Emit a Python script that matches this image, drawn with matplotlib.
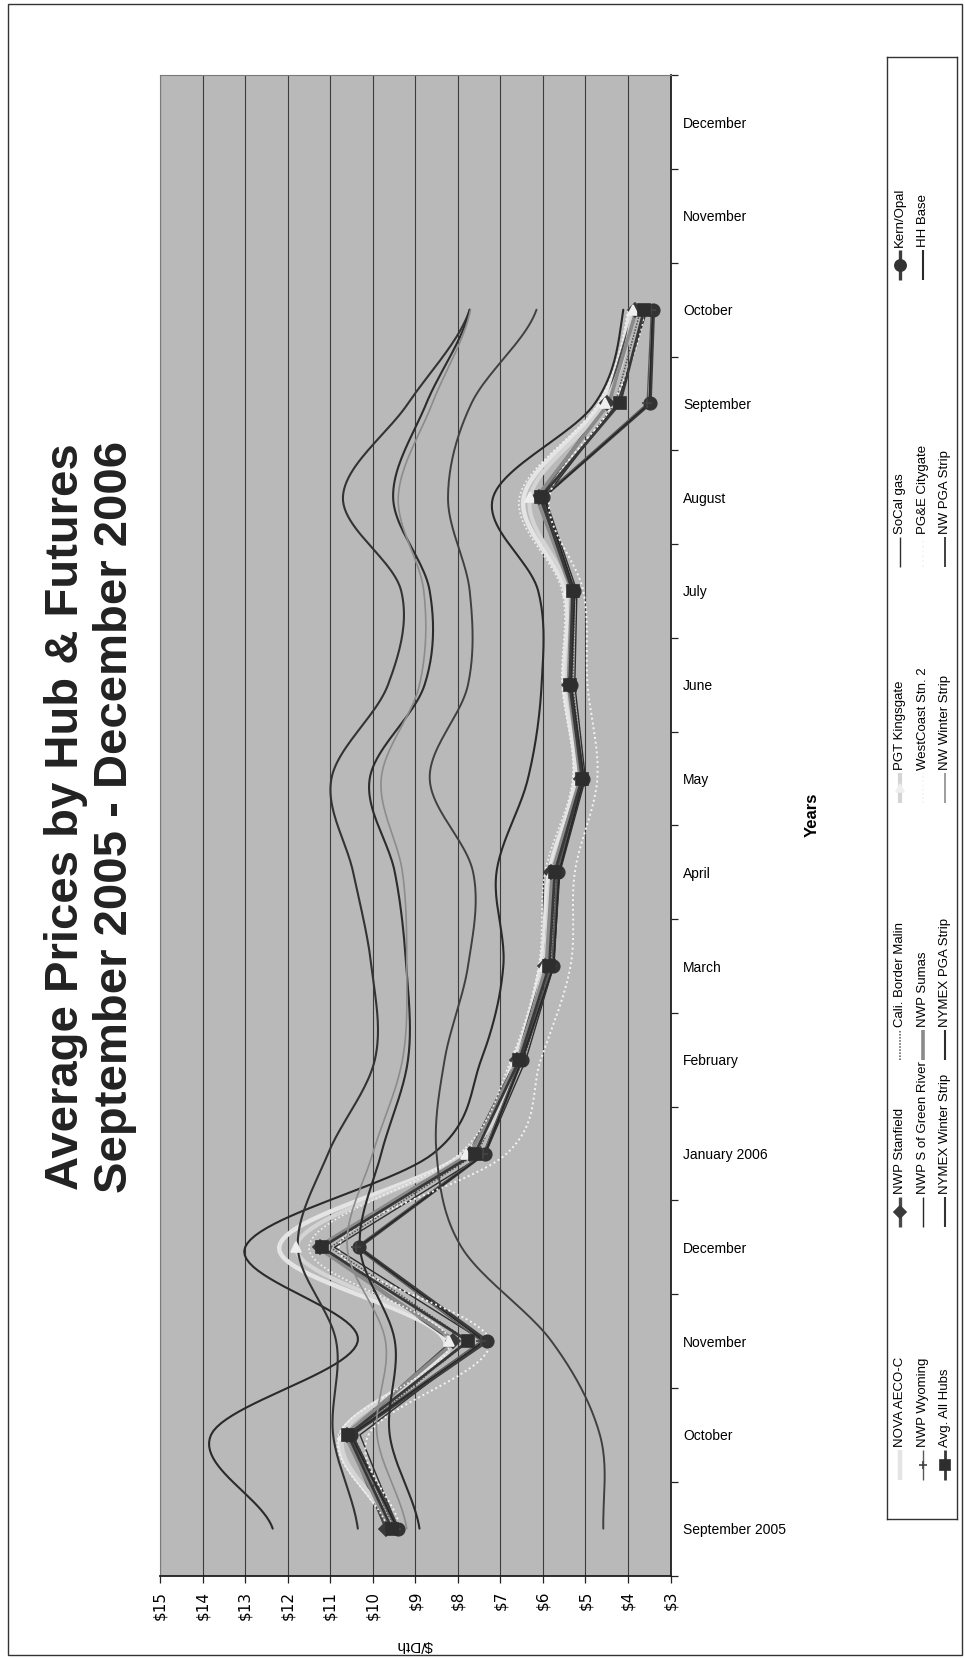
import numpy as np
import matplotlib
matplotlib.use("Agg")
import matplotlib.pyplot as plt
from matplotlib.patches import Rectangle

# ---------------------------------------------------------------- data
MONTHS = ["September 2005", "October", "November", "December", "January 2006",
          "February", "March", "April", "May", "June", "July", "August",
          "September", "October", "November", "December"]
PRICE_TICKS = [15, 14, 13, 12, 11, 10, 9, 8, 7, 6, 5, 4, 3]
PRICE_LABELS = ["$15", "$14", "$13", "$12", "$11", "$10", "$9", "$8", "$7",
                "$6", "$5", "$4", "$3"]

# monthly averages, Sep 2005 .. Oct 2006 ($/Dth)
nova_aeco = [9.62, 10.75, 8.30, 12.20, 7.85, 6.68, 6.05, 5.85, 5.25, 5.50, 5.48, 6.45, 4.65, 3.95]
nwp_stanfield = [9.68, 10.60, 8.11, 11.25, 7.72, 6.60, 5.95, 5.80, 5.10, 5.38, 5.30, 6.10, 4.50, 3.84]
cali_malin = [9.50, 10.45, 7.75, 11.00, 7.55, 6.45, 5.80, 5.70, 5.05, 5.30, 5.25, 6.00, 4.30, 3.70]
pgt_kingsgate = [9.58, 10.70, 8.20, 11.80, 7.80, 6.62, 5.98, 5.78, 5.15, 5.42, 5.40, 6.30, 4.55, 3.88]
socal_gas = [9.40, 10.30, 7.40, 10.90, 7.35, 6.40, 5.75, 5.60, 5.00, 5.25, 5.20, 5.95, 4.25, 3.55]
kern_opal = [9.40, 10.50, 7.31, 10.33, 7.37, 6.50, 5.76, 5.64, 5.05, 5.35, 5.27, 6.00, 3.48, 3.40]
nwp_wyoming = [9.45, 10.55, 7.45, 10.40, 7.40, 6.52, 5.78, 5.66, 5.07, 5.36, 5.28, 6.02, 3.55, 3.45]
nwp_green_river = [9.42, 10.52, 7.38, 10.35, 7.36, 6.50, 5.75, 5.62, 5.04, 5.34, 5.26, 5.98, 3.50, 3.42]
nwp_sumas = [9.60, 10.65, 8.05, 11.30, 7.70, 6.58, 5.92, 5.78, 5.12, 5.40, 5.32, 6.15, 4.45, 3.80]
westcoast_stn2 = [9.65, 10.80, 8.20, 11.50, 7.95, 6.75, 6.10, 5.95, 5.30, 5.55, 5.55, 6.55, 4.70, 4.00]
pge_citygate = [9.35, 10.10, 7.25, 10.80, 6.85, 6.05, 5.35, 5.25, 4.72, 4.95, 5.05, 5.85, 4.35, 3.60]
hh_base = [12.35, 13.80, 10.35, 13.00, 8.58, 7.45, 6.93, 7.09, 6.35, 6.03, 6.11, 7.17, 4.78, 4.11]
avg_all_hubs = [9.55, 10.58, 7.76, 11.20, 7.60, 6.55, 5.85, 5.72, 5.08, 5.37, 5.30, 6.05, 4.19, 3.62]
nymex_winter = [10.35, 10.93, 10.86, 11.76, 11.05, 9.95, 10.03, 10.46, 10.97, 9.64, 9.33, 10.70, 9.17, 7.72]
nymex_pga = [8.90, 9.60, 9.48, 10.30, 9.80, 9.17, 9.21, 9.48, 10.07, 8.78, 8.66, 9.52, 8.74, 7.72]
nw_winter = [9.20, 9.90, 9.70, 10.60, 10.00, 9.30, 9.20, 9.30, 9.80, 8.90, 8.80, 9.40, 8.60, 7.70]
nw_pga = [4.58, 4.66, 5.80, 7.91, 8.50, 8.31, 7.76, 7.64, 8.66, 7.76, 7.72, 8.23, 7.68, 6.15]

# ---------------------------------------------------------------- styles
SERIES = [
    ("NOVA AECO-C", nova_aeco, dict(color="#e4e4e4", lw=3.2), None, True),
    ("NWP Stanfield", nwp_stanfield, dict(color="#4a4a4a", lw=2.4), ("D", "#3a3a3a", 7), False),
    ("Cali. Border Malin", cali_malin, dict(color="#505050", lw=1.1, ls=(0, (1, 1))), None, False),
    ("PGT Kingsgate", pgt_kingsgate, dict(color="#d4d4d4", lw=3.0), ("^", "#eeeeee", 7), True),
    ("SoCal gas", socal_gas, dict(color="#2e2e2e", lw=1.0), None, False),
    ("Kern/Opal", kern_opal, dict(color="#3c3c3c", lw=2.4), ("o", "#333333", 9), False),
    ("NWP Wyoming", nwp_wyoming, dict(color="#5a5a5a", lw=1.0), ("+", "#444444", 7), False),
    ("NWP S of Green River", nwp_green_river, dict(color="#262626", lw=1.0), None, False),
    ("NWP Sumas", nwp_sumas, dict(color="#8a8a8a", lw=2.6), None, False),
    ("WestCoast Stn. 2", westcoast_stn2, dict(color="#f2f2f2", lw=1.2, ls=(0, (1, 1.5))), None, True),
    ("PG&E Citygate", pge_citygate, dict(color="#f4f4f4", lw=1.4, ls=(0, (1, 1.5))), None, True),
    ("HH Base", hh_base, dict(color="#2a2a2a", lw=1.5), None, True),
    ("Avg. All Hubs", avg_all_hubs, dict(color="#383838", lw=2.0), ("s", "#2e2e2e", 8), False),
    ("NYMEX Winter Strip", nymex_winter, dict(color="#333333", lw=1.5), None, True),
    ("NYMEX PGA Strip", nymex_pga, dict(color="#2c2c2c", lw=1.5), None, True),
    ("NW Winter Strip", nw_winter, dict(color="#8c8c8c", lw=1.2), None, True),
    ("NW PGA Strip", nw_pga, dict(color="#404040", lw=1.4), None, True),
]


def smooth(values, steps=24):
    """Bezier smoothing through the points (Catmull-Rom tangents)."""
    v = np.asarray(values, float)
    t = np.arange(len(v), dtype=float)
    xs, ts = [], []
    s = np.linspace(0, 1, steps, endpoint=False)
    for i in range(len(v) - 1):
        p0 = v[i - 1] if i > 0 else v[i]
        p3 = v[i + 2] if i + 2 < len(v) else v[i + 1]
        p1, p2 = v[i], v[i + 1]
        c1 = p1 + (p2 - p0) / 6.0
        c2 = p2 - (p3 - p1) / 6.0
        b = ((1 - s) ** 3) * p1 + 3 * ((1 - s) ** 2) * s * c1 + 3 * (1 - s) * s ** 2 * c2 + s ** 3 * p2
        xs.append(b)
        ts.append(t[i] + s)
    xs.append([v[-1]])
    ts.append([t[-1]])
    return np.concatenate(xs), np.concatenate(ts)


W, H = 965, 1659
fig = plt.figure(figsize=(W / 100, H / 100), dpi=100)
fig.patch.set_facecolor("white")
plt.rcParams["font.family"] = ["Liberation Sans", "DejaVu Sans"]


def fx(px):
    return px / W


def fy(py):
    return 1 - py / H


# ---------------------------------------------------------------- plot area
left, right, top, bottom = 160, 670.5, 75.3, 1575.5
ax = fig.add_axes([fx(left), fy(bottom), fx(right - left), (bottom - top) / H])
ax.set_facecolor("#b9b9b9")
ax.set_xlim(15, 3)
ax.set_ylim(-0.5, len(MONTHS) - 0.5)

ax.set_xticks(PRICE_TICKS)
ax.set_xticklabels(PRICE_LABELS, rotation=90, fontsize=11, family="DejaVu Sans")
ax.tick_params(axis="x", direction="out", length=5, width=0.9, color="#222222", pad=6)
ax.grid(axis="x", color="#3c3c3c", lw=0.8)
ax.set_axisbelow(True)

ax.yaxis.tick_right()
ax.set_yticks(np.arange(len(MONTHS)))
ax.set_yticklabels(MONTHS, fontsize=10)
ax.set_yticks(np.arange(-0.5, len(MONTHS), 1.0), minor=True)
ax.tick_params(axis="y", which="major", length=0, pad=9)
ax.tick_params(axis="y", which="minor", direction="out", length=5, width=0.9,
               color="#222222", right=True, left=False)

for side in ("right", "bottom"):
    ax.spines[side].set_color("#1e1e1e")
    ax.spines[side].set_linewidth(1.3)
for side in ("left", "top"):
    ax.spines[side].set_color("#7a7a7a")
    ax.spines[side].set_linewidth(0.8)

for zi, (name, vals, style, marker, is_smooth) in enumerate(SERIES):
    idx = np.arange(len(vals))
    if is_smooth:
        px, py = smooth(vals)
    else:
        px, py = np.asarray(vals, float), idx
    ax.plot(px, py, solid_capstyle="round", zorder=3 + zi * 0.01, **style)
    if marker is not None:
        m, mc, ms = marker
        ax.plot(vals, idx, ls="none", marker=m, ms=ms, mfc=mc, mec=mc,
                mew=1.2, zorder=4 + zi * 0.01)

# axis titles
fig.text(fx(812), fy(815), "Years", rotation=90, fontsize=12, fontweight="bold",
         ha="center", va="center")
fig.text(fx(415), fy(1645), "$/Dth", rotation=180, fontsize=11,
         ha="center", va="center")

# chart title
fig.text(fx(66), fy(817), "Average Prices by Hub & Futures", rotation=90,
         fontsize=34, fontweight="bold", ha="center", va="center", color="#222222")
fig.text(fx(115), fy(817), "September 2005 - December 2006", rotation=90,
         fontsize=34, fontweight="bold", ha="center", va="center", color="#222222")

# ---------------------------------------------------------------- legend
lx0, lx1, ly0, ly1 = 887, 957, 57, 1519
lax = fig.add_axes([fx(lx0), fy(ly1), fx(lx1 - lx0), (ly1 - ly0) / H])
lax.set_xlim(lx0, lx1)
lax.set_ylim(ly1, ly0)
lax.set_xticks([])
lax.set_yticks([])
lax.set_facecolor("white")
for sp in lax.spines.values():
    sp.set_color("#333333")
    sp.set_linewidth(1.0)

col_x = [900, 923, 945]
slot_y = [1480, 1227, 1060, 803, 567, 280]
sample_len = 30
for k, (name, vals, style, marker, is_smooth) in enumerate(SERIES):
    col, slot = k // 6, k % 6
    x = col_x[col]
    y0 = slot_y[slot]
    lax.plot([x, x], [y0, y0 - sample_len], solid_capstyle="butt", **style)
    if marker is not None:
        m, mc, ms = marker
        lax.plot([x], [y0 - sample_len / 2], ls="none", marker=m, ms=ms * 0.9,
                 mfc=mc, mec=mc, mew=1.2)
    lax.text(x, y0 - sample_len - 3, name, rotation=90, fontsize=9.5,
             ha="center", va="bottom")

# page border
fig.patches.append(Rectangle((fx(8), fy(1655)), fx(962 - 8), (1655 - 4) / H,
                             transform=fig.transFigure, fill=False,
                             lw=1.0, ec="#333333"))

fig.savefig("out.png", dpi=100)
